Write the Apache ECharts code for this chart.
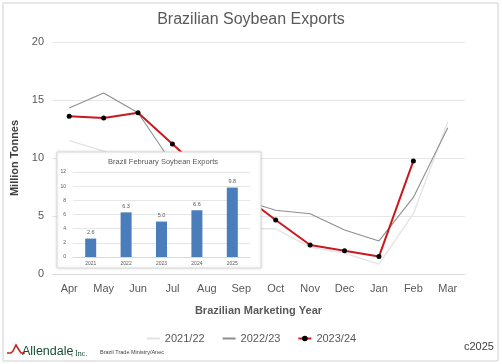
<!DOCTYPE html>
<html><head><meta charset="utf-8">
<script src="https://cdn.jsdelivr.net/npm/echarts@6/dist/echarts.min.js"></script>
<style>html,body{margin:0;padding:0;background:#fff}#c{width:502px;height:364px}</style>
</head><body><div id="c"></div>
<script>
const months = ['Apr','May','Jun','Jul','Aug','Sep','Oct','Nov','Dec','Jan','Feb','Mar'];
const s2122 = [11.5, 10.6, 9.6, 8.0, 6.0, 3.9, 3.9, 2.3, 1.8, 0.85, 5.2, 13.1];
const s2223 = [14.3, 15.6, 13.9, 9.5, 8.2, 6.4, 5.5, 5.2, 3.8, 2.85, 6.6, 12.6];
const s2324 = [13.6, 13.45, 13.9, 11.2, 8.5, 6.9, 4.65, 2.5, 2.0, 1.5, 9.75, null];
const febYears = ['2021','2022','2023','2024','2025'];
const febValues = [2.6, 6.3, 5.0, 6.6, 9.8];
const yTicks = [0, 5, 10, 15, 20];
const insetTicks = [0, 2, 4, 6, 8, 10, 12];

const chart = echarts.init(document.getElementById('c'), null, {renderer:'canvas'});
const txt = '#595959';
chart.setOption({
  animation:false,
  backgroundColor:'#fff',
  title:[
    {text:'Brazilian Soybean Exports', left:'center', top:7,
     textStyle:{fontFamily:'Liberation Sans', fontSize:16, fontWeight:'normal', color:txt}},
    {text:'Brazil February Soybean Exports', left:158, textAlign:'center', top:153, z:30,
     textStyle:{fontFamily:'Liberation Sans', fontSize:7.5, fontWeight:'normal', color:txt}}
  ],
  legend:{
    data:[{name:'2021/22', itemStyle:{opacity:0}}, {name:'2022/23', itemStyle:{opacity:0}}, {name:'2023/24'}],
    left:'center', top:328, itemWidth:13, itemHeight:7, itemGap:17,
    textStyle:{fontFamily:'Liberation Sans', fontSize:11, color:txt}
  },
  grid:[
    {left:52, right:37, top:42, bottom:90},
    {left:73, right:252, top:172, bottom:107, z:30}
  ],
  xAxis:[
    {type:'category', data:months, gridIndex:0,
     axisLine:{lineStyle:{color:'#d9d9d9'}}, axisTick:{show:false},
     axisLabel:{fontFamily:'Liberation Sans', fontSize:11, color:txt, margin:9},
     name:'Brazilian Marketing Year', nameLocation:'middle', nameGap:31,
     nameTextStyle:{fontFamily:'Liberation Sans', fontSize:11, fontWeight:'bold', color:txt}},
    {type:'category', data:febYears, gridIndex:1, z:30,
     axisLine:{lineStyle:{color:'#d9d9d9'}}, axisTick:{show:false},
     axisLabel:{fontFamily:'Liberation Sans', fontSize:5, color:txt, margin:4}}
  ],
  yAxis:[
    {type:'value', gridIndex:0, min:yTicks[0], max:yTicks[yTicks.length-1], interval:5,
     axisLine:{show:false}, axisTick:{show:false},
     splitLine:{lineStyle:{color:'#e6e6e6'}},
     axisLabel:{fontFamily:'Liberation Sans', fontSize:11, color:txt, margin:8},
     name:'Million Tonnes', nameLocation:'middle', nameGap:25,
     nameTextStyle:{fontFamily:'Liberation Sans', fontSize:11, fontWeight:'bold', color:'#404040'}},
    {type:'value', gridIndex:1, min:insetTicks[0], max:insetTicks[insetTicks.length-1], interval:2, z:30,
     axisLine:{show:false}, axisTick:{show:false},
     splitLine:{lineStyle:{color:'#e6e6e6'}},
     axisLabel:{fontFamily:'Liberation Sans', fontSize:5, color:txt, margin:7}}
  ],
  graphic:[
    {type:'rect', shape:{x:3, y:3, width:495, height:358}, style:{fill:'none', stroke:'#d0d0d0', lineWidth:1}, z:0},
    {type:'rect', shape:{x:57, y:152, width:204, height:116},
     style:{fill:'#fff', stroke:'#d9d9d9', lineWidth:1, shadowBlur:3, shadowColor:'rgba(0,0,0,0.12)'}, z:20},
    {type:'text', left:464, top:341, z:30, style:{text:'c2025', fontFamily:'Liberation Sans', fontSize:11, fill:'#404040'}},
    {type:'text', left:100, top:349, z:30, style:{text:'Brazil Trade Ministry/Anec', fontFamily:'Liberation Sans', fontSize:5.5, fill:'#404040'}},
    {type:'polyline', z:30, shape:{points:[[7,353],[11,353],[13,351],[16,345],[19,350],[21,353],[25,353]]},
     style:{stroke:'#c0281e', lineWidth:1.6, fill:'none'}},
    {type:'text', left:22, top:345, z:30, style:{text:'Allendale', fontFamily:'Liberation Sans', fontSize:12.5, fill:'#174d32'}},
    {type:'text', left:71, top:350, z:30, style:{text:', Inc.', fontFamily:'Liberation Serif', fontSize:8, fill:'#174d32'}}
  ],
  series:[
    {name:'2021/22', type:'line', data:s2122, xAxisIndex:0, yAxisIndex:0, symbol:'none', z:2,
     lineStyle:{color:'#e3e3e3', width:1.3}, itemStyle:{color:'#e3e3e3'}},
    {name:'2022/23', type:'line', data:s2223, xAxisIndex:0, yAxisIndex:0, symbol:'none', z:3,
     lineStyle:{color:'#8f8f8f', width:1.1}, itemStyle:{color:'#8f8f8f'}},
    {name:'2023/24', type:'line', data:s2324, xAxisIndex:0, yAxisIndex:0, symbol:'circle', symbolSize:5, z:4,
     lineStyle:{color:'#c8191f', width:2}, itemStyle:{color:'#000'}},
    {name:'Feb', type:'bar', data:febValues, xAxisIndex:1, yAxisIndex:1, barWidth:11, z:30,
     itemStyle:{color:'#4a7ebb'},
     label:{show:true, position:'top', distance:3, fontFamily:'Liberation Sans', fontSize:5.5, color:txt,
            formatter:p=>p.value.toFixed(1)}}
  ]
});
</script></body></html>
